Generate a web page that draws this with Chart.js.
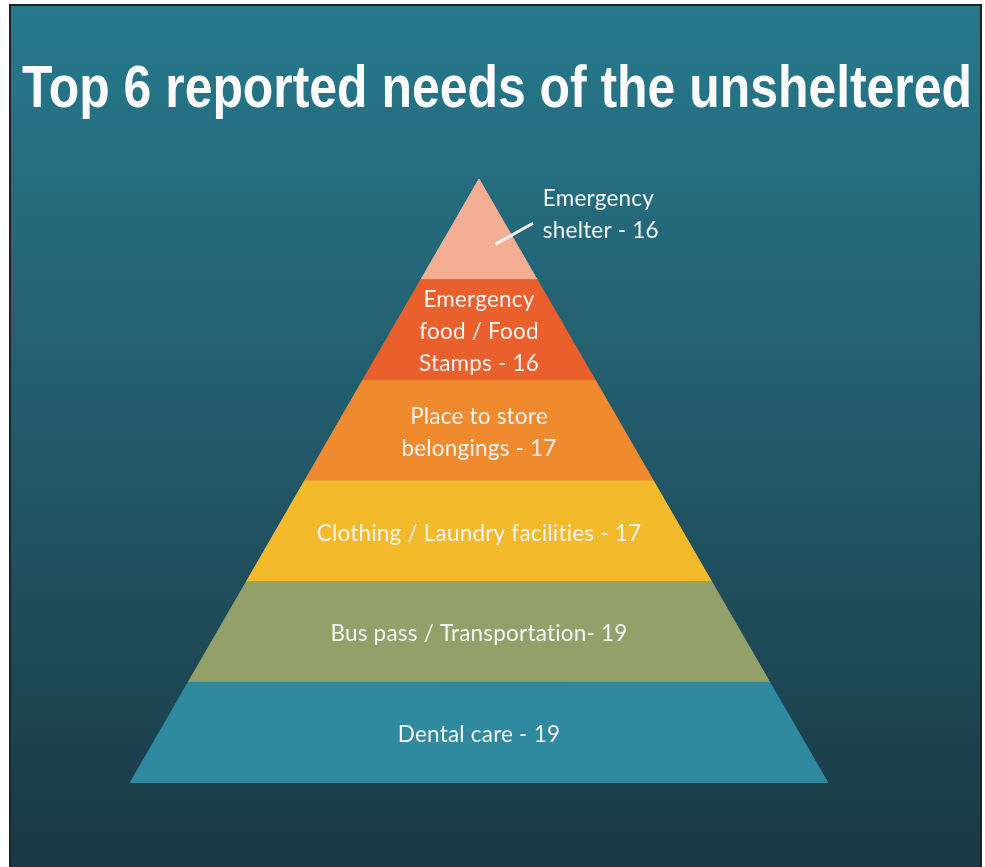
<!DOCTYPE html>
<html>
<head>
<meta charset="utf-8">
<script src="https://cdn.jsdelivr.net/npm/chart.js@4"></script>
<style>
  html, body { margin: 0; padding: 0; background: #ffffff; }
  #wrap { position: relative; width: 985px; height: 867px; }
</style>
</head>
<body>
<div id="wrap"><canvas id="pyramidChart"></canvas></div>
<script>
// layers from the base of the pyramid up to the apex
const needLines = [
    ['Dental care'],
    ['Bus pass / Transportation'],
    ['Clothing / Laundry facilities'],
    ['Place to store', 'belongings'],
    ['Emergency', 'food / Food', 'Stamps'],
    ['Emergency', 'shelter']
];
const counts = [19, 19, 17, 17, 16, 16];
const separators = [' - ', '- ', ' - ', ' - ', ' - ', ' - '];
const layerColors = ['#2f8aa0', '#93a06a', '#f3ba2c', '#ef8a2e', '#e9602c', '#f3ae94'];
const titleText = 'Top 6 reported needs of the unsheltered';

const layerCount = needLines.length;

// half width of the pyramid at a given level (0 = base, layerCount = apex)
function halfWidth(level) {
    return (layerCount - level) / layerCount;
}

const datasets = needLines.map(function(lines, i) {
    const lo = halfWidth(i), hi = halfWidth(i + 1);
    return {
        label: lines.join(' '),
        data: [
            {x: -lo, y: i}, {x: lo, y: i},
            {x: hi, y: i + 1}, {x: -hi, y: i + 1},
            {x: -lo, y: i}
        ],
        showLine: true,
        fill: 'shape',
        backgroundColor: layerColors[i],
        borderColor: layerColors[i],
        borderWidth: 1,
        pointRadius: 0,
        pointHoverRadius: 0,
        tension: 0
    };
});

// panel background, frame and title
const backdrop = {
    id: 'backdrop',
    beforeDraw(chart) {
        const ctx = chart.ctx;
        ctx.save();
        const grad = ctx.createLinearGradient(0, 4, 0, 867);
        grad.addColorStop(0, '#26798c');
        grad.addColorStop(0.45, '#235d6d');
        grad.addColorStop(1, '#1a3844');
        ctx.fillStyle = grad;
        ctx.fillRect(9, 4, 973, 863);
        ctx.strokeStyle = '#222222';
        ctx.lineWidth = 2;
        ctx.beginPath();
        ctx.moveTo(10, 867); ctx.lineTo(10, 5); ctx.lineTo(981, 5); ctx.lineTo(981, 867);
        ctx.stroke();

        ctx.font = 'bold 60px "Liberation Sans", Arial, sans-serif';
        ctx.fillStyle = '#fafafa';
        ctx.textBaseline = 'alphabetic';
        const w = ctx.measureText(titleText).width;
        ctx.translate(22, 107);
        ctx.scale(950 / w, 1);
        ctx.fillText(titleText, 0, 0);
        ctx.restore();
    }
};

// layer captions, built from the names and counts
const captions = {
    id: 'captions',
    afterDatasetsDraw(chart) {
        const ctx = chart.ctx;
        const xs = chart.scales.x, ys = chart.scales.y;
        const lineH = 32;
        ctx.save();
        ctx.font = '22.5px Lato, "Liberation Sans", sans-serif';
        ctx.letterSpacing = '0.2px';
        ctx.fillStyle = '#f4f4f4';
        ctx.textBaseline = 'middle';
        needLines.forEach(function(lines, i) {
            const text = lines.slice();
            text[text.length - 1] += separators[i] + counts[i];
            if (i === layerCount - 1) {
                // apex layer is labelled outside, with a leader line
                const tx = xs.getPixelForValue(0.183);
                const ty = ys.getPixelForValue(i + 0.5);
                ctx.textAlign = 'left';
                text.forEach(function(t, k) {
                    ctx.fillText(t, tx, ty - 31 + k * lineH);
                });
                ctx.strokeStyle = '#f4f4f4';
                ctx.lineWidth = 3;
                ctx.beginPath();
                ctx.moveTo(xs.getPixelForValue(0.046), ys.getPixelForValue(i + 0.35));
                ctx.lineTo(xs.getPixelForValue(0.155), ys.getPixelForValue(i + 0.56));
                ctx.stroke();
                return;
            }
            const cx = xs.getPixelForValue(0);
            const cy = ys.getPixelForValue(i + 0.5) + 2;
            ctx.textAlign = 'center';
            text.forEach(function(t, k) {
                ctx.fillText(t, cx, cy + (k - (text.length - 1) / 2) * lineH);
            });
        });
        ctx.restore();
    }
};

document.addEventListener('DOMContentLoaded', function() {
    const ctx = document.getElementById('pyramidChart').getContext('2d');
    new Chart(ctx, {
        type: 'scatter',
        data: { datasets: datasets },
        options: {
            responsive: true,
            maintainAspectRatio: false,
            animation: false,
            events: [],
            layout: { padding: { left: 130, right: 157, top: 179, bottom: 84 } },
            scales: {
                x: { type: 'linear', min: -1, max: 1, display: false },
                y: { type: 'linear', min: 0, max: layerCount, display: false }
            },
            plugins: {
                legend: { display: false },
                title: { display: false },
                tooltip: { enabled: false }
            }
        },
        plugins: [backdrop, captions]
    });
});
</script>
</body>
</html>
